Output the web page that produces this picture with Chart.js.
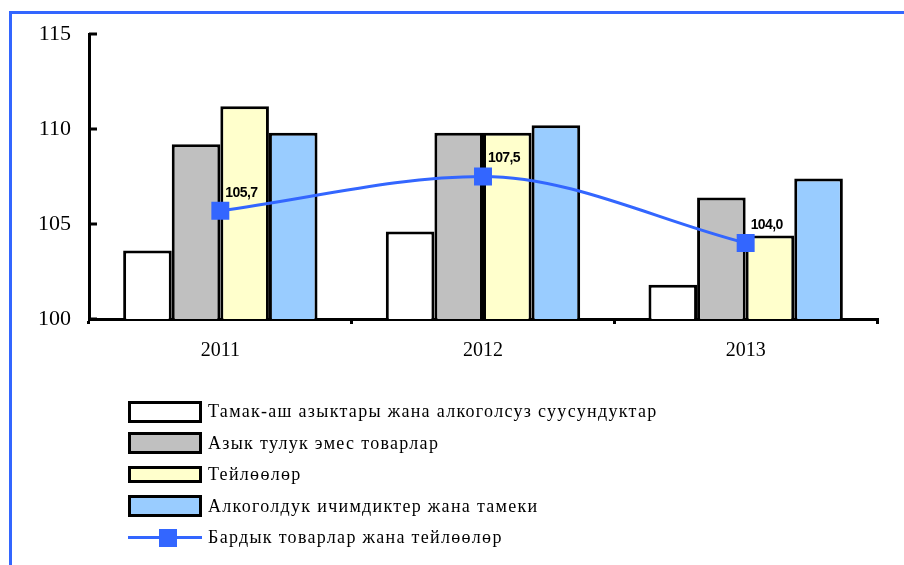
<!DOCTYPE html>
<html>
<head>
<meta charset="utf-8">
<script src="https://cdn.jsdelivr.net/npm/chart.js@4.4.0/dist/chart.umd.min.js"></script>
<style>
  html, body { margin: 0; padding: 0; background: #fff; }
  #wrap { position: relative; width: 904px; height: 565px; overflow: hidden; }
  #frame { position: absolute; left: 9px; top: 11px; width: 1000px; height: 1000px;
           border-top: 3px solid #3366ff; border-left: 3px solid #3366ff; }
  #chartBox { position: absolute; left: 0; top: 0; width: 904px; height: 565px; }
  #legend { position: absolute; left: 128px; top: 396px; font-family: "Liberation Serif", serif;
            font-size: 18px; letter-spacing: 1.3px; color: #000; }
  .row { display: flex; align-items: center; height: 31.5px; }
  .box { box-sizing: border-box; width: 74px; height: 22px; border: 3px solid #000; margin-right: 6px; }
  .lineKey { position: relative; width: 74px; height: 22px; margin-right: 6px; }
  .lineKey .ln { position: absolute; left: 0; right: 0; top: 9px; height: 3px; background: #3366ff; }
  .lineKey .mk { position: absolute; left: 31px; top: 2px; width: 18px; height: 18px; background: #3366ff; }
</style>
</head>
<body>
<div id="wrap">
  <div id="frame"></div>
  <div id="chartBox"><canvas id="chart"></canvas></div>
  <div id="legend"></div>
</div>
<script>
// categories and values
const years = ["2011", "2012", "2013"];
const foodValues = [103.6, 104.6, 101.8];
const nonFoodValues = [109.2, 109.8, 106.4];
const serviceValues = [111.2, 109.8, 104.4];
const alcoholValues = [109.8, 110.2, 107.4];
const totalValues = [105.7, 107.5, 104.0];
const yTicks = [100, 105, 110, 115];

const seriesNames = [
  "Тамак-аш азыктары жана алкоголсуз суусундуктар",
  "Азык тулук эмес товарлар",
  "Тейлөөлөр",
  "Алкоголдук ичимдиктер жана тамеки",
  "Бардык товарлар жана тейлөөлөр"
];
const barColors = ["#ffffff", "#c0c0c0", "#ffffcc", "#99ccff"];
const lineColor = "#3366ff";

// ticks drawn inwards on the y axis
const innerTicks = {
  id: "innerTicks",
  afterDraw(chart) {
    const y = chart.scales.y;
    const ctx = chart.ctx;
    ctx.save();
    ctx.strokeStyle = "#000";
    ctx.lineWidth = 3;
    y.ticks.forEach(t => {
      const py = y.getPixelForValue(t.value);
      ctx.beginPath();
      ctx.moveTo(y.right, py);
      ctx.lineTo(y.right + 8, py);
      ctx.stroke();
    });
    ctx.restore();
  }
};

// value labels for the line
const lineLabels = {
  id: "lineLabels",
  afterDatasetsDraw(chart) {
    const idx = chart.data.datasets.findIndex(d => d.type === "line");
    const meta = chart.getDatasetMeta(idx);
    const ctx = chart.ctx;
    ctx.save();
    ctx.font = "bold 14px 'Liberation Sans', Arial, sans-serif";
    ctx.letterSpacing = "-0.6px";
    ctx.fillStyle = "#000";
    ctx.textAlign = "left";
    ctx.textBaseline = "bottom";
    meta.data.forEach((pt, i) => {
      const txt = totalValues[i].toFixed(1).replace(".", ",");
      ctx.fillText(txt, pt.x + 5, pt.y - 11);
    });
    ctx.restore();
  }
};

const barSets = [foodValues, nonFoodValues, serviceValues, alcoholValues].map((vals, i) => ({
  type: "bar",
  label: seriesNames[i],
  data: vals,
  backgroundColor: barColors[i],
  borderColor: "#000",
  borderWidth: 3,
  barPercentage: 1,
  categoryPercentage: 0.74,
  order: 1
}));

const ctx = document.getElementById("chart").getContext("2d");
new Chart(ctx, {
  type: "bar",
  data: {
    labels: years,
    datasets: [
      ...barSets,
      {
        type: "line",
        label: seriesNames[4],
        data: totalValues,
        borderColor: lineColor,
        backgroundColor: lineColor,
        borderWidth: 3,
        cubicInterpolationMode: "monotone",
        pointStyle: "rect",
        pointRadius: 12.7,
        pointBorderWidth: 0,
        order: 0
      }
    ]
  },
  options: {
    responsive: true,
    maintainAspectRatio: false,
    animation: false,
    layout: { padding: { left: 0, top: 34, right: 27, bottom: 0 } },
    plugins: {
      legend: { display: false },
      tooltip: { enabled: false }
    },
    scales: {
      x: {
        grid: { drawOnChartArea: false, drawTicks: true, tickLength: 5, color: "#000", lineWidth: 3 },
        border: { color: "#000", width: 3 },
        ticks: { color: "#000", padding: 15, font: { family: "'Liberation Serif', serif", size: 20 } },
        afterFit(scale) { scale.height = 565 - 319; }
      },
      y: {
        min: 100,
        max: 115,
        afterBuildTicks(scale) { scale.ticks = yTicks.map(v => ({ value: v })); },
        grid: { display: false, drawTicks: false },
        border: { color: "#000", width: 3 },
        ticks: { color: "#000", padding: 18, font: { family: "'Liberation Serif', serif", size: 22 } },
        afterFit(scale) { scale.width = 89; }
      }
    }
  },
  plugins: [innerTicks, lineLabels]
});

// legend built from the series names
const legend = document.getElementById("legend");
seriesNames.forEach((name, i) => {
  const row = document.createElement("div");
  row.className = "row";
  if (i < 4) {
    const box = document.createElement("div");
    box.className = "box";
    box.style.background = barColors[i];
    if (i === 2) box.style.height = "17px";
    row.appendChild(box);
  } else {
    const key = document.createElement("div");
    key.className = "lineKey";
    key.innerHTML = '<div class="ln"></div><div class="mk"></div>';
    row.appendChild(key);
  }
  const txt = document.createElement("span");
  txt.textContent = name;
  row.appendChild(txt);
  legend.appendChild(row);
});
</script>
</body>
</html>
